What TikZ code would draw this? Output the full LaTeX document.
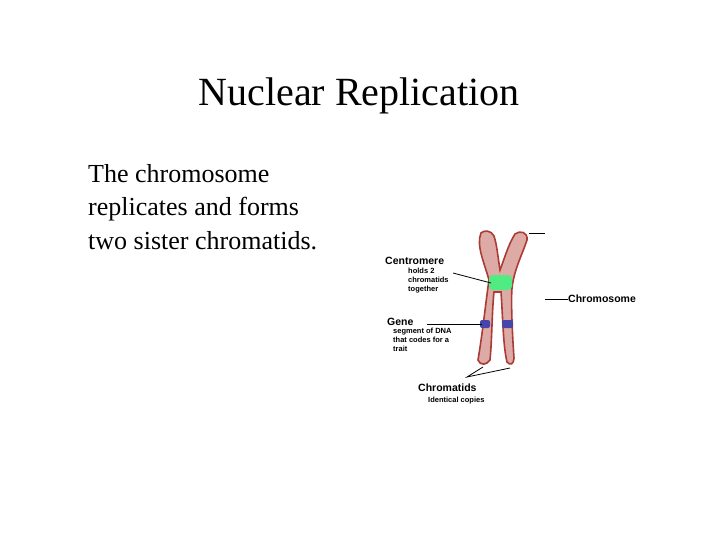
\documentclass[tikz,border=0pt]{standalone}
\usepackage{fontspec}
\setmainfont{Liberation Serif}
\newfontfamily\lab{Liberation Sans}
\definecolor{chrfill}{RGB}{222,170,165}
\definecolor{chrdraw}{RGB}{170,60,55}
\definecolor{cgreen}{RGB}{80,235,130}
\definecolor{cblue}{RGB}{70,70,170}
\begin{document}
\begin{tikzpicture}[x=1pt,y=-1pt,
  big/.style={font=\lab\bfseries\fontsize{10.5}{11}\selectfont,anchor=west,inner sep=0},
  small/.style={font=\lab\bfseries\fontsize{7.5}{9}\selectfont,anchor=north west,align=left,inner sep=0},
  ln/.style={black,line width=0.8pt}]
\useasboundingbox[fill=white] (0,0) rectangle (720,540);
\node[font=\fontsize{40}{44}\selectfont] (title) at (359,96) {Nuclear Replication};
\node[font=\fontsize{26}{33.5}\selectfont,anchor=north west,align=left,inner sep=0] (body) at (88,164) {The chromosome\\replicates and forms\\two sister chromatids.};
% chromosome
\draw[fill=chrfill,draw=chrdraw,line width=1.6pt]
 (481,233) .. controls (476,245) and (484,262) .. (489,280)
 .. controls (486,300) and (483,330) .. (478,360)
 .. controls (480,366) and (487,365) .. (490,360)
 .. controls (492,340) and (492,310) .. (494,292)
 -- (501,292)
 .. controls (503,320) and (503,345) .. (507,362)
 .. controls (510,366) and (514,364) .. (514,358)
 .. controls (512,330) and (511,300) .. (512,288)
 .. controls (514,270) and (522,255) .. (527,240)
 .. controls (528,232) and (520,230) .. (515,234)
 .. controls (508,245) and (504,260) .. (500,270)
 .. controls (498,258) and (497,245) .. (494,236)
 .. controls (491,230) and (484,230) .. (481,233) -- cycle;
\fill[cgreen,rounded corners=4pt] (489,275) rectangle (512,290);
\fill[cblue,rounded corners=2pt] (480,320) rectangle (490,328);
\fill[cblue,rounded corners=2pt] (502,320) rectangle (513,328);
\coordinate (cen) at (491,283);
\coordinate (gen) at (482,324);
\coordinate (lb) at (483,367);
\coordinate (rb) at (510,368);
\coordinate (tp) at (529,233);
% labels
\node[big] (c) at (385,261) {Centromere};
\node[small] (cd) at (408,268) {holds 2\\chromatids\\together};
\draw[ln] (453,273) -- (cen);
\draw[ln] (tp) -- (545,233);
\coordinate (chs) at (545,299);
\node[big] (ch) at (568,299) {Chromosome};
\draw[ln] (chs) -- (ch.west);
\node[big] (g) at (387,322) {Gene};
\draw[ln] (427,324) -- (gen);
\node[small] (gd) at (393,328) {segment of DNA\\that codes for a\\trait};
\coordinate (cv) at (467,377);
\draw[ln] (lb) -- (cv) -- (rb);
\node[big] (cr) at (418,388) {Chromatids};
\node[small] (cc) at (428,397) {Identical copies};
\end{tikzpicture}
\end{document}
